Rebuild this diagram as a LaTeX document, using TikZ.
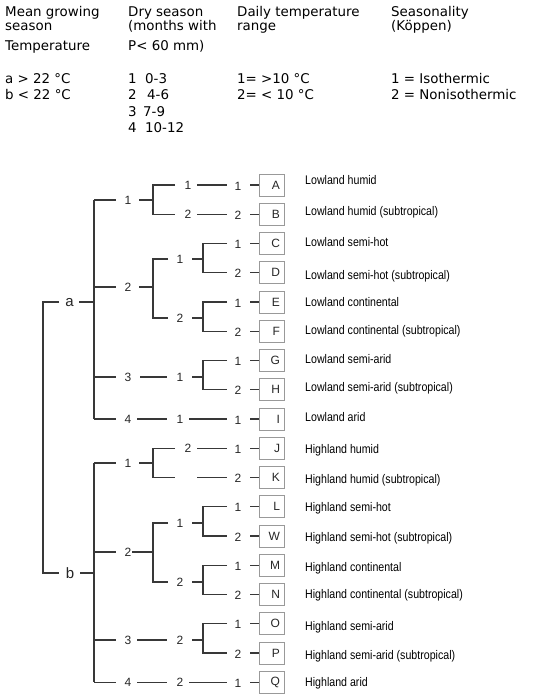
\documentclass[tikz,border=0pt]{standalone}
\usepackage{fontspec}
\setmainfont{Liberation Sans}
\newfontfamily\hdrfont{DejaVu Sans}
\newfontfamily\narrowfont[FakeStretch=0.85]{Liberation Sans}
\begin{document}
\begin{tikzpicture}[x=1pt,y=-1pt,
  hdr/.style={anchor=base west,inner sep=0,font=\hdrfont\fontsize{13.4}{16}\selectfont},
  lbl/.style={inner sep=0,font=\fontsize{12}{14}\selectfont,text=black!85},
  rootlbl/.style={inner sep=0,font=\fontsize{15}{17}\selectfont,text=black!85},
  leaf/.style={draw=black!40,line width=0.9pt,minimum height=22pt,text width=17pt,align=right,inner xsep=4pt,inner ysep=0,font=\fontsize{12}{14}\selectfont,text=black!85},
  desc/.style={anchor=west,inner sep=0,text height=9pt,text depth=2.5pt,font=\narrowfont\fontsize{12.5}{14}\selectfont},
  br/.style={draw=black!78,line width=1.1pt}]
\useasboundingbox (0,0) rectangle (546,699);
% ---------- header ----------
\node[hdr] (h11) at (5,16) {Mean growing};
\node[hdr] (h12) at (5,30) {season};
\node[hdr] (h13) at (5,50) {Temperature};
\node[hdr] (h14) at (5,83) {a > 22 °C};
\node[hdr] (h15) at (5,99) {b < 22 °C};
\node[hdr] (h21) at (128,16) {Dry season};
\node[hdr] (h22) at (128,30) {(months with};
\node[hdr] (h23) at (128,50) {P< 60 mm)};
\node[hdr] (h24) at (128,83) {1};   \node[hdr] (h24r) at (145,83) {0-3};
\node[hdr] (h25) at (128,99) {2};   \node[hdr] (h25r) at (147,99) {4-6};
\node[hdr] (h26) at (128,116) {3};  \node[hdr] (h26r) at (143,116) {7-9};
\node[hdr] (h27) at (128,132.5) {4};\node[hdr] (h27r) at (145,132.5) {10-12};
\node[hdr] (h31) at (237,16) {Daily temperature};
\node[hdr] (h32) at (237,30) {range};
\node[hdr] (h34) at (237,83) {1= >10 °C};
\node[hdr] (h35) at (237,99) {2= < 10 °C};
\node[hdr] (h41) at (391,16) {Seasonality};
\node[hdr] (h42) at (391,30) {(Köppen)};
\node[hdr] (h44) at (391,83) {1 = Isothermic};
\node[hdr] (h45) at (391,99) {2 = Nonisothermic};
% ---------- leaves ----------
\foreach \n/\y/\d/\dy/\t in {
  A/185/1/-4/Lowland humid,
  B/214.25/2/-2/Lowland humid (subtropical),
  C/243.5/1/0/Lowland semi-hot,
  D/272.75/2/3/Lowland semi-hot (subtropical),
  E/302/1/1/Lowland continental,
  F/331.25/2/0/Lowland continental (subtropical),
  G/360.5/1/0/Lowland semi-arid,
  H/389.75/2/-2/Lowland semi-arid (subtropical),
  I/419/1/-1/Lowland arid,
  J/448.25/1/2/Highland humid,
  K/477.5/2/3/Highland humid (subtropical),
  L/506.75/1/1/Highland semi-hot,
  W/536/2/2/Highland semi-hot (subtropical),
  M/565.25/1/3/Highland continental,
  N/594.5/2/1/Highland continental (subtropical),
  O/623.75/1/3/Highland semi-arid,
  P/653/2/3/Highland semi-arid (subtropical),
  Q/682.25/1/1/Highland arid}{
  \node[leaf] (\n) at (271.5,\y) {\n};
  \node[lbl] (n\n) at (238,\y+1) {\d};
  \draw[br] (250,\y) -- (\n.west);
  \node[desc] (t\n) at (305,\y+\dy) {\t};
}
% ---------- root ----------
\node[rootlbl] (a) at (69.5,302.5) {a};
\node[rootlbl] (b) at (70,573.5) {b};
\draw[br] (59,302) -- (43,302) -- (43,573) -- (59,573);
\draw[br] (79,302) -- (94,302);
\draw[br] (80,573) -- (94,573);
% ---------- branch a ----------
\draw[br] (94,200) -- (94,419);
\node[lbl] (a1) at (128,200) {1};
\node[lbl] (a2) at (128,287) {2};
\node[lbl] (a3) at (128,377) {3};
\node[lbl] (a4) at (128,419) {4};
\foreach \y in {200,287,377,419} \draw[br] (94,\y) -- (116,\y);
% a1
\draw[br] (139,200) -- (153,200);
\draw[br] (175,185) -- (153,185) -- (153,214.25) -- (175,214.25);
\node[lbl] (a11) at (188,185) {1};
\node[lbl] (a12) at (188,214.25) {2};
\draw[br] (197,185) -- (227,185);
\draw[br] (197,214.25) -- (227,214.25);
% a2
\draw[br] (139,287) -- (153,287);
\draw[br] (168,259) -- (153,259) -- (153,318) -- (168,318);
\node[lbl] (a21) at (180,259) {1};
\node[lbl] (a22) at (180,318) {2};
\draw[br] (192,259) -- (203,259);
\draw[br] (227,243.5) -- (203,243.5) -- (203,272.75) -- (227,272.75);
\draw[br] (192,318) -- (203,318);
\draw[br] (227,302) -- (203,302) -- (203,331.25) -- (227,331.25);
% a3
\draw[br] (140,377) -- (167,377);
\node[lbl] (a31) at (180,377) {1};
\draw[br] (192,377) -- (203,377);
\draw[br] (227,360.5) -- (203,360.5) -- (203,389.75) -- (227,389.75);
% a4
\draw[br] (137,419) -- (167,419);
\node[lbl] (a41) at (180,419) {1};
\draw[br] (189,419) -- (227,419);
% ---------- branch b ----------
\draw[br] (94,463) -- (94,682.25);
\node[lbl] (b1) at (128,463) {1};
\node[lbl] (b2) at (128,552) {2};
\node[lbl] (b3) at (128,640) {3};
\node[lbl] (b4) at (128,682.25) {4};
\foreach \y in {463,552,640,682.25} \draw[br] (94,\y) -- (116,\y);
% b1
\draw[br] (139,463) -- (153,463);
\draw[br] (175,448.25) -- (153,448.25) -- (153,477.5) -- (175,477.5);
\node[lbl] (b11) at (188,448.25) {2};
\draw[br] (197,448.25) -- (227,448.25);
\draw[br] (197,477.5) -- (227,477.5);
% b2
\draw[br] (132,552) -- (153,552);
\draw[br] (168,523) -- (153,523) -- (153,582) -- (168,582);
\node[lbl] (b21) at (180,523) {1};
\node[lbl] (b22) at (180,582) {2};
\draw[br] (192,523) -- (203,523);
\draw[br] (227,506.75) -- (203,506.75) -- (203,536) -- (227,536);
\draw[br] (192,582) -- (203,582);
\draw[br] (227,565.25) -- (203,565.25) -- (203,594.5) -- (227,594.5);
% b3
\draw[br] (137,640) -- (167,640);
\node[lbl] (b31) at (180,640) {2};
\draw[br] (192,640) -- (203,640);
\draw[br] (227,623.75) -- (203,623.75) -- (203,653) -- (227,653);
% b4
\draw[br] (137,682.25) -- (167,682.25);
\node[lbl] (b41) at (180,682.25) {2};
\draw[br] (189,682.25) -- (227,682.25);
\end{tikzpicture}
\end{document}
